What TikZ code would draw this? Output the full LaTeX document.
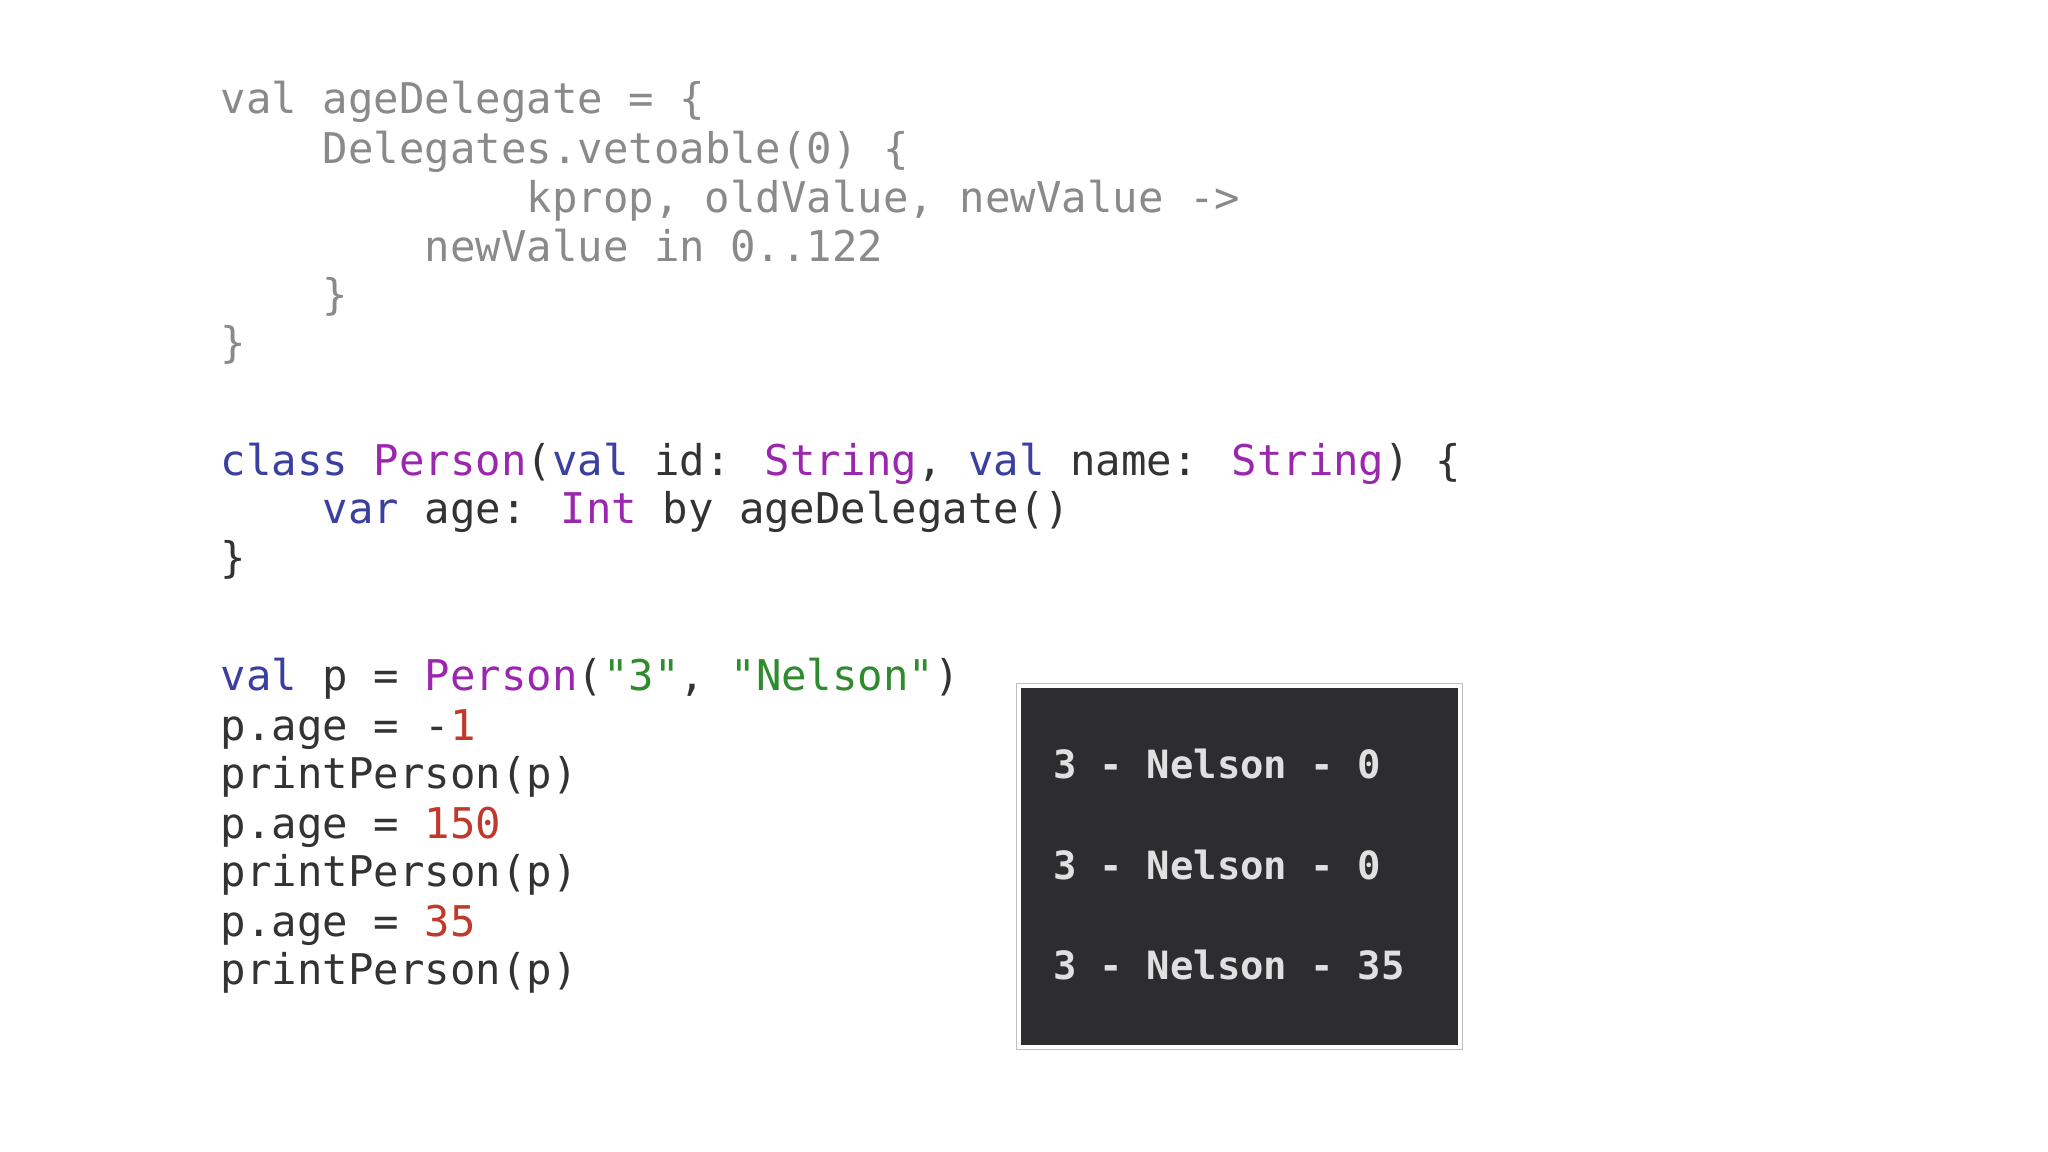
\documentclass[tikz,border=0pt]{standalone}
\usepackage{fontspec}
\newfontfamily\code{DejaVu Sans Mono}
\definecolor{gr}{HTML}{8A8A8A}
\definecolor{dk}{HTML}{333333}
\definecolor{kw}{HTML}{3B3FA0}
\definecolor{pu}{HTML}{9B27AF}
\definecolor{gn}{HTML}{2E8B2E}
\definecolor{rd}{HTML}{C0392B}
\definecolor{term}{HTML}{2D2D30}
\definecolor{tt}{HTML}{E0E0E0}
\begin{document}
\begin{tikzpicture}[x=1pt,y=-1pt,
  ln/.style={anchor=base west,inner sep=0pt,font=\code\fontsize{32.4}{36}\selectfont,text=dk},
  outtxt/.style={anchor=base west,inner sep=0pt,font=\code\bfseries\fontsize{29.8}{34}\selectfont,text=tt}]
\fill[white] (0,0) rectangle (1568,882);
\node[ln,text=gr] (a1) at (169,87) {val ageDelegate = \{};
\node[ln,text=gr] (a2) at (247,125) {Delegates.vetoable(0) \{};
\node[ln,text=gr] (a3) at (403,163) {kprop, oldValue, newValue ->};
\node[ln,text=gr] (a4) at (325,200) {newValue in 0..122};
\node[ln,text=gr] (a5) at (247,237) {\}};
\node[ln,text=gr] (a6) at (169,274) {\}};
\node[ln] (b1) at (169,364) {\textcolor{kw}{class} \textcolor{pu}{Person}(\textcolor{kw}{val} id: \textcolor{pu}{String}, \textcolor{kw}{val} name: \textcolor{pu}{String}) \{};
\node[ln] (b2) at (247,401) {\textcolor{kw}{var} age: \textcolor{pu}{Int} by ageDelegate()};
\node[ln] (b3) at (169,438) {\}};
\node[ln] (c1) at (169,529) {\textcolor{kw}{val} p = \textcolor{pu}{Person}(\textcolor{gn}{"3"}, \textcolor{gn}{"Nelson"})};
\node[ln] (c2) at (169,567) {p.age = -\textcolor{rd}{1}};
\node[ln] (c3) at (169,604) {printPerson(p)};
\node[ln] (c4) at (169,642) {p.age = \textcolor{rd}{150}};
\node[ln] (c5) at (169,679) {printPerson(p)};
\node[ln] (c6) at (169,717) {p.age = \textcolor{rd}{35}};
\node[ln] (c7) at (169,754) {printPerson(p)};
\draw[draw=black!25,line width=1pt] (778.5,523.5) rectangle (1119.5,803.5);
\fill[term] (782,527) rectangle (1116,800);
\node[outtxt] (o1) at (806,596) {3 - Nelson - 0};
\node[outtxt] (o2) at (806,673) {3 - Nelson - 0};
\node[outtxt] (o3) at (806,750) {3 - Nelson - 35};
\end{tikzpicture}
\end{document}
